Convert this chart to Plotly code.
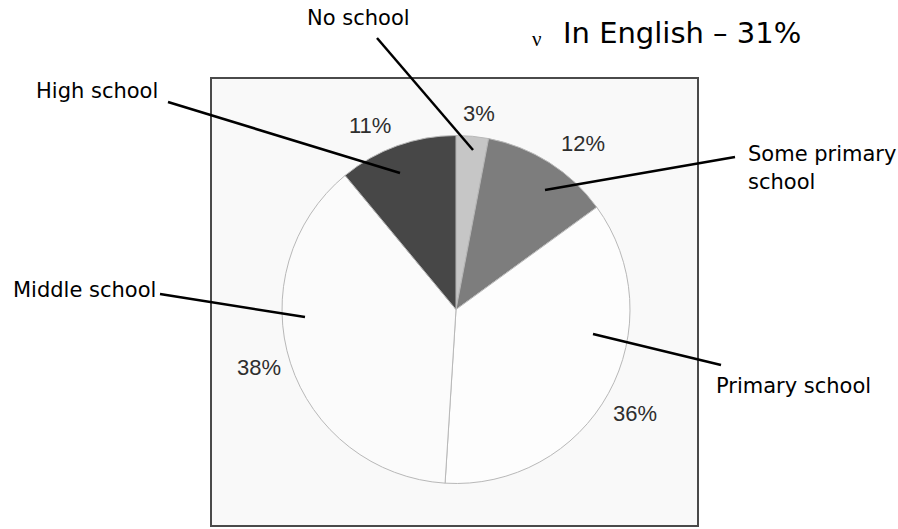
import plotly.graph_objects as go

# ---- data ----
categories = ["No school", "Some primary school", "Primary school", "Middle school", "High school"]
values = [3, 12, 36, 38, 11]
slice_colors = ["#c6c6c6", "#7d7d7d", "#fdfdfd", "#fbfbfb", "#474747"]
title_text = "In English – 31%"

W, H = 898, 529


def px(x, y):
    return x / W, 1 - y / H


# pie geometry (pixels)
cx, cy, r = 456, 309.5, 174

fig = go.Figure()
fig.add_trace(go.Pie(
    labels=categories,
    values=values,
    sort=False,
    direction="clockwise",
    rotation=0,
    marker=dict(colors=slice_colors, line=dict(color="#b8b8b8", width=1)),
    textinfo="none",
    hoverinfo="label+percent",
    showlegend=False,
    domain=dict(x=[(cx - r) / W, (cx + r) / W], y=[1 - (cy + r) / H, 1 - (cy - r) / H]),
))

shapes = []
# frame
x0, y0 = px(211, 78)
x1, y1 = px(698, 526)
shapes.append(dict(type="rect", xref="paper", yref="paper", x0=x0, y0=y1, x1=x1, y1=y0,
                   line=dict(color="#4a4a4a", width=2), fillcolor="#f9f9f9", layer="below"))

# leader lines (label end -> slice end), one per category
leaders = {
    "No school": ((377, 38), (473, 150)),
    "Some primary school": ((735, 157), (545, 190)),
    "Primary school": ((721, 365), (593, 334)),
    "Middle school": ((160, 294), (305, 317)),
    "High school": ((168, 102), (400, 173)),
}
for cat in categories:
    (a, b), (c, d) = leaders[cat]
    ax_, ay_ = px(a, b)
    bx_, by_ = px(c, d)
    shapes.append(dict(type="line", xref="paper", yref="paper", x0=ax_, y0=ay_, x1=bx_, y1=by_,
                       line=dict(color="black", width=2.5)))

annotations = []
label_font = dict(family="DejaVu Sans", size=21, color="black")
# category labels: (x, y, xanchor)
label_pos = {
    "No school": [("No school", 358, 18, "center")],
    "Some primary school": [("Some primary", 746, 154, "left"), ("school", 746, 182, "left")],
    "Primary school": [("Primary school", 714, 386, "left")],
    "Middle school": [("Middle school", 11, 290, "left")],
    "High school": [("High school", 34, 91, "left")],
}
for cat in categories:
    for txt, x, y, xa in label_pos[cat]:
        xp, yp = px(x, y)
        annotations.append(dict(text=txt, x=xp, y=yp, xref="paper", yref="paper",
                                xanchor=xa, yanchor="middle", showarrow=False, font=label_font))

# percentage labels
pct_pos = [(479, 113), (583, 144), (635, 413), (259, 367), (370, 125)]
for v, (x, y) in zip(values, pct_pos):
    xp, yp = px(x, y)
    annotations.append(dict(text=f"{v}%", x=xp, y=yp, xref="paper", yref="paper",
                            xanchor="center", yanchor="middle", showarrow=False,
                            font=dict(family="Liberation Sans, Arial", size=22, color="#2e2e2e")))

# title bullet + title
xp, yp = px(537, 39)
annotations.append(dict(text="ν", x=xp, y=yp, xref="paper", yref="paper", xanchor="center",
                        yanchor="middle", showarrow=False,
                        font=dict(family="Liberation Serif", size=21, color="black")))
xp, yp = px(682, 33)
annotations.append(dict(text=title_text, x=xp, y=yp, xref="paper", yref="paper", xanchor="center",
                        yanchor="middle", showarrow=False,
                        font=dict(family="DejaVu Sans", size=29, color="black")))

fig.update_layout(
    width=W, height=H,
    margin=dict(l=0, r=0, t=0, b=0),
    paper_bgcolor="white",
    plot_bgcolor="white",
    shapes=shapes,
    annotations=annotations,
)

fig.write_html("out.html")
